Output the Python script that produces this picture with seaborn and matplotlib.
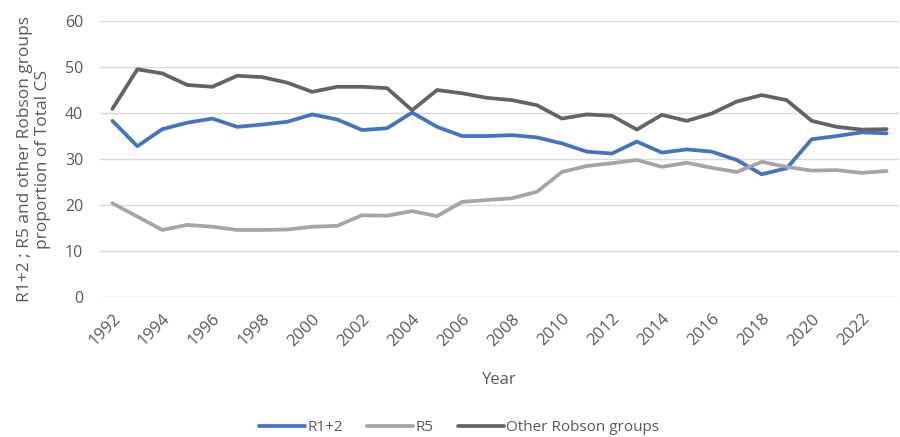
import numpy as np
import pandas as pd
import seaborn as sns
import matplotlib.pyplot as plt

years = list(range(1992, 2024))
r12 = [38.3, 32.8, 36.5, 37.9, 38.8, 37.0, 37.5, 38.1, 39.7, 38.6, 36.3, 36.7,
       40.1, 37.0, 35.0, 35.0, 35.2, 34.7, 33.4, 31.6, 31.2, 33.8, 31.4, 32.1,
       31.6, 29.8, 26.7, 28.0, 34.3, 35.0, 35.8, 35.6]
r5 = [20.4, 17.5, 14.6, 15.7, 15.3, 14.6, 14.6, 14.7, 15.3, 15.5, 17.8, 17.7,
      18.7, 17.6, 20.7, 21.1, 21.5, 22.9, 27.2, 28.5, 29.1, 29.8, 28.3, 29.2,
      28.1, 27.2, 29.4, 28.3, 27.5, 27.6, 27.0, 27.4]
other = [40.9, 49.5, 48.6, 46.1, 45.7, 48.1, 47.8, 46.6, 44.6, 45.7, 45.7, 45.4,
         40.6, 45.0, 44.3, 43.3, 42.8, 41.7, 38.8, 39.7, 39.4, 36.4, 39.6, 38.3,
         39.9, 42.5, 43.9, 42.8, 38.3, 37.0, 36.4, 36.5]
series_names = ["R1+2", "R5", "Other Robson groups"]
colors = ["#4472C4", "#A5A5A5", "#636363"]

df = pd.DataFrame({"Year": years, "R1+2": r12, "R5": r5, "Other Robson groups": other})
df = df.melt(id_vars="Year", var_name="group", value_name="value")

sns.set_style("white")
plt.rcParams['font.family'] = ['Open Sans', 'DejaVu Sans']
txt = "#595959"

fig = plt.figure(figsize=(9, 4.37), dpi=100)
ax = fig.add_axes([0.111, 0.320, 0.888, 0.632])
sns.lineplot(data=df, x="Year", y="value", hue="group", hue_order=series_names,
             palette=colors, linewidth=2.7, ax=ax, legend=True)

ax.set_xlim(1991.5, 2023.5)
ax.set_ylim(0, 60)
ax.set_yticks(range(0, 61, 10))
ax.set_xticks(years[::2])
ax.set_xticklabels([str(y) for y in years[::2]], rotation=45, ha="right",
                   rotation_mode="anchor")
ax.tick_params(axis="both", colors=txt, labelsize=11.5, length=0)
ax.tick_params(axis="x", pad=10, labelsize=12)
ax.tick_params(axis="y", pad=12)
ax.grid(axis="y", color="#D9D9D9", linewidth=1)
ax.set_axisbelow(True)
for s in ax.spines.values():
    s.set_visible(False)

ax.set_xlabel("Year", color=txt, fontsize=12, labelpad=16)
ax.set_ylabel("R1+2 ; R5 and other Robson groups\nproportion of Total CS",
              color=txt, fontsize=12.5, labelpad=10)

handles, labels = ax.get_legend_handles_labels()
ax.legend_.remove()
fig.legend(handles, labels, loc="center", bbox_to_anchor=(0.51, 0.022),
           ncol=3, frameon=False, fontsize=11, handlelength=3.0,
           handletextpad=0.15, columnspacing=1.6, labelcolor=txt)

fig.savefig("out.png", dpi=100)
